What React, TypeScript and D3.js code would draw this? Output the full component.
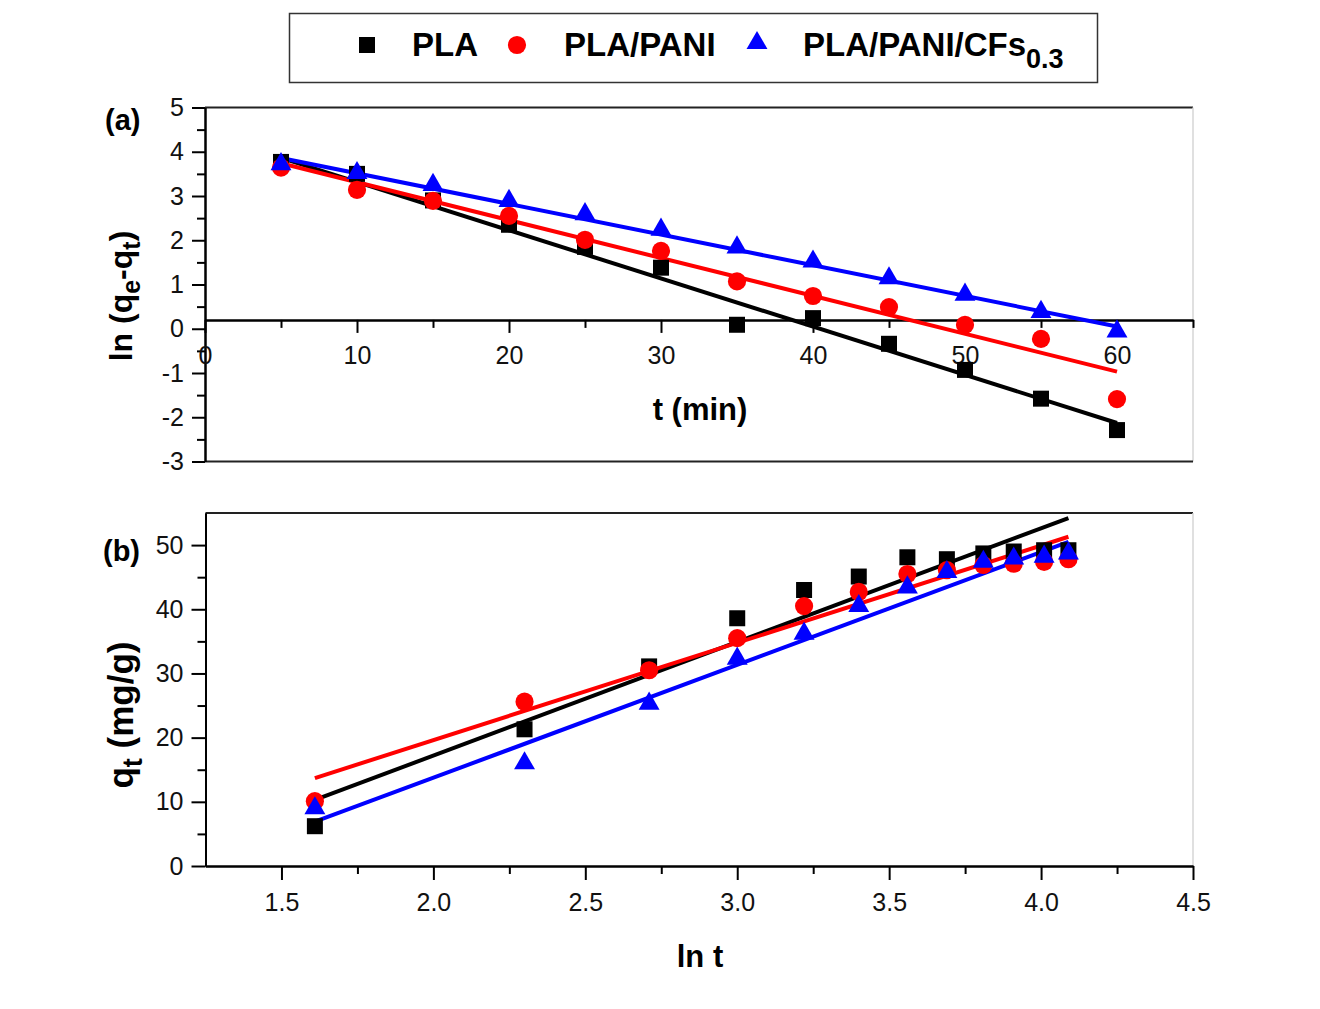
import * as d3 from 'd3';
import React, { useRef, useEffect } from 'react';

// panel (a): ln(qe - qt) against t (min)
const timeMin = [5, 10, 15, 20, 25, 30, 35, 40, 45, 50, 55, 60];
const lnPLA = [3.77, 3.5, 2.9, 2.35, 1.85, 1.38, 0.09, 0.24, -0.34, -0.93, -1.58, -2.29];
const lnPANI = [3.64, 3.14, 2.89, 2.55, 2.01, 1.76, 1.07, 0.74, 0.49, 0.09, -0.23, -1.59];
const lnCFs = [3.72, 3.52, 3.25, 2.89, 2.59, 2.24, 1.84, 1.52, 1.14, 0.77, 0.38, -0.06];
// fitted lines, value at t = 5 and t = 60
const fitA = [[3.86, -2.13], [3.74, -0.97], [3.86, 0.05]];

// panel (b): qt against ln t
const lnT = [1.61, 2.30, 2.71, 3.00, 3.22, 3.40, 3.56, 3.69, 3.81, 3.91, 4.01, 4.09];
const qtPLA = [6.2, 21.3, 31.1, 38.6, 43.0, 45.1, 48.1, 47.8, 48.7, 49.0, 49.2, 49.2];
const qtPANI = [10.1, 25.6, 30.5, 35.5, 40.5, 42.7, 45.5, 46.1, 46.9, 47.1, 47.4, 47.8];
const qtCFs = [9.0, 16.0, 25.3, 32.3, 36.2, 40.5, 43.4, 45.8, 47.4, 47.9, 48.2, 48.7];
// fitted lines, value at ln t = 1.61 and ln t = 4.09
const fitB = [[10.3, 54.2], [13.7, 51.3], [6.9, 50.5]];

const seriesNames = ['PLA', 'PLA/PANI', 'PLA/PANI/CFs'];
const colors = ['#000000', '#ff0000', '#0000ff'];
const shapes = [d3.symbolSquare, d3.symbolCircle, d3.symbolTriangle];
const shapeSizes = [256, 260, 190];

const ticksA_y = [-3, -2, -1, 0, 1, 2, 3, 4, 5];
const minorA_y = [-2.5, -1.5, -0.5, 0.5, 1.5, 2.5, 3.5, 4.5];
const ticksA_x = [0, 10, 20, 30, 40, 50, 60];
const minorA_x = [5, 15, 25, 35, 45, 55, 65];
const ticksB_y = [0, 10, 20, 30, 40, 50];
const minorB_y = [5, 15, 25, 35, 45];
const ticksB_x = [1.5, 2.0, 2.5, 3.0, 3.5, 4.0, 4.5];
const minorB_x = [1.75, 2.25, 2.75, 3.25, 3.75, 4.25];

const App = () => {
    const svgRef = useRef(null);

    useEffect(() => {
        const svg = d3.select(svgRef.current);
        svg.selectAll('*').remove();

        const font = "'Liberation Sans', Arial, sans-serif";

        svg.append('rect').attr('width', 1320).attr('height', 1009).attr('fill', '#fff');

        // legend box
        svg.append('rect')
            .attr('x', 289.5).attr('y', 13.5).attr('width', 808).attr('height', 69)
            .attr('fill', 'none').attr('stroke', '#333').attr('stroke-width', 1.5);
        const legendX = [367, 517, 757];
        const legendTextX = [412, 564, 803];
        seriesNames.forEach((name, i) => {
            svg.append('path')
                .attr('transform', `translate(${legendX[i]},${i === 2 ? 43 : 45})`)
                .attr('d', d3.symbol(shapes[i], shapeSizes[i])())
                .attr('fill', colors[i]);
            const t = svg.append('text')
                .attr('x', legendTextX[i]).attr('y', 56)
                .attr('font-family', font).attr('font-weight', 'bold')
                .attr('font-size', 33).attr('fill', '#000')
                .text(name);
            if (i === 2) {
                t.append('tspan').attr('dy', 12).attr('font-size', 27).text('0.3');
            }
        });

        const xa = d3.scaleLinear().domain([0, 65]).range([205, 1193]);
        const ya = d3.scaleLinear().domain([-3, 5]).range([461.5, 107.5]);
        const xb = d3.scaleLinear().domain([1.25, 4.5]).range([205.5, 1193]);
        const yb = d3.scaleLinear().domain([0, 55]).range([866, 513]);

        const styleAxis = (g) => {
            g.selectAll('path').attr('stroke', '#000').attr('stroke-width', 2);
            g.selectAll('line').attr('stroke', '#000').attr('stroke-width', 2);
            g.selectAll('text').attr('font-family', font).attr('font-size', 25).attr('fill', '#111');
        };
        const plain = (d) => String(d);

        // frames (top and right borders)
        const frame = (x0, x1, y0, y1, bottom) => {
            svg.append('line').attr('x1', x0).attr('x2', x1).attr('y1', y0).attr('y2', y0)
                .attr('stroke', '#222').attr('stroke-width', 2);
            svg.append('line').attr('x1', x1).attr('x2', x1).attr('y1', y0).attr('y2', y1)
                .attr('stroke', '#d6d6d6').attr('stroke-width', 1.5);
            if (bottom) {
                svg.append('line').attr('x1', x0).attr('x2', x1).attr('y1', y1).attr('y2', y1)
                    .attr('stroke', '#222').attr('stroke-width', 2);
            }
        };
        frame(205, 1193, 107.5, 461.5, true);
        frame(205.5, 1193, 513, 866, false);

        // panel (a) axes
        svg.append('g').attr('transform', 'translate(205,0)')
            .call(d3.axisLeft(ya).tickValues(minorA_y).tickSize(8).tickFormat(() => '').tickSizeOuter(0))
            .call(styleAxis);
        svg.append('g').attr('transform', 'translate(205,0)')
            .call(d3.axisLeft(ya).tickValues(ticksA_y).tickSize(13).tickPadding(8)
                .tickFormat(plain).tickSizeOuter(0))
            .call(styleAxis);
        svg.append('g').attr('transform', `translate(0,${ya(0.2)})`)
            .call(d3.axisBottom(xa).tickValues(minorA_x).tickSize(8).tickFormat(() => '').tickSizeOuter(0))
            .call(styleAxis);
        svg.append('g').attr('transform', `translate(0,${ya(0.2)})`)
            .call(d3.axisBottom(xa).tickValues(ticksA_x).tickSize(13).tickPadding(13)
                .tickFormat(plain).tickSizeOuter(0))
            .call(styleAxis);

        // panel (b) axes
        svg.append('g').attr('transform', 'translate(205.5,0)')
            .call(d3.axisLeft(yb).tickValues(minorB_y).tickSize(8).tickFormat(() => '').tickSizeOuter(0))
            .call(styleAxis);
        svg.append('g').attr('transform', 'translate(205.5,0)')
            .call(d3.axisLeft(yb).tickValues(ticksB_y).tickSize(14).tickPadding(8)
                .tickFormat(plain).tickSizeOuter(0))
            .call(styleAxis);
        svg.append('g').attr('transform', 'translate(0,866)')
            .call(d3.axisBottom(xb).tickValues(minorB_x).tickSize(8).tickFormat(() => '').tickSizeOuter(0))
            .call(styleAxis);
        svg.append('g').attr('transform', 'translate(0,866)')
            .call(d3.axisBottom(xb).tickValues(ticksB_x).tickSize(14).tickPadding(13)
                .tickFormat(d3.format('.1f')).tickSizeOuter(0))
            .call(styleAxis);

        // axis titles
        const bold = (x, y, size) => svg.append('text')
            .attr('x', x).attr('y', y).attr('font-family', font)
            .attr('font-weight', 'bold').attr('font-size', size).attr('fill', '#000');
        bold(105, 130, 29).text('(a)');
        bold(103, 561, 29).text('(b)');
        bold(700, 420, 31).attr('text-anchor', 'middle').text('t (min)');
        bold(700, 967, 31).attr('text-anchor', 'middle').text('ln t');

        const ylabA = svg.append('text')
            .attr('transform', 'translate(132,296) rotate(-90)')
            .attr('text-anchor', 'middle').attr('font-family', font)
            .attr('font-weight', 'bold').attr('font-size', 32).attr('fill', '#000');
        ylabA.append('tspan').text('ln (q');
        ylabA.append('tspan').attr('dy', 8).attr('font-size', 25).text('e');
        ylabA.append('tspan').attr('dy', -8).text('-q');
        ylabA.append('tspan').attr('dy', 8).attr('font-size', 25).text('t');
        ylabA.append('tspan').attr('dy', -8).text(')');

        const ylabB = svg.append('text')
            .attr('transform', 'translate(133,715) rotate(-90)')
            .attr('text-anchor', 'middle').attr('font-family', font)
            .attr('font-weight', 'bold').attr('font-size', 35).attr('fill', '#000');
        ylabB.append('tspan').text('q');
        ylabB.append('tspan').attr('dy', 9).attr('font-size', 27).text('t');
        ylabB.append('tspan').attr('dy', -9).text(' (mg/g)');

        // data
        const panelA = [lnPLA, lnPANI, lnCFs];
        const panelB = [qtPLA, qtPANI, qtCFs];
        const line = d3.line();

        fitA.forEach((f, i) => {
            svg.append('path')
                .attr('d', line([[xa(timeMin[0]), ya(f[0])], [xa(timeMin[timeMin.length - 1]), ya(f[1])]]))
                .attr('stroke', colors[i]).attr('stroke-width', 4).attr('fill', 'none');
        });
        fitB.forEach((f, i) => {
            svg.append('path')
                .attr('d', line([[xb(lnT[0]), yb(f[0])], [xb(lnT[lnT.length - 1]), yb(f[1])]]))
                .attr('stroke', colors[i]).attr('stroke-width', 4).attr('fill', 'none');
        });

        panelA.forEach((vals, i) => {
            svg.append('g').selectAll('path')
                .data(vals).enter().append('path')
                .attr('transform', (d, j) => `translate(${xa(timeMin[j])},${ya(d)})`)
                .attr('d', d3.symbol(shapes[i], shapeSizes[i])())
                .attr('fill', colors[i]);
        });
        panelB.forEach((vals, i) => {
            svg.append('g').selectAll('path')
                .data(vals).enter().append('path')
                .attr('transform', (d, j) => `translate(${xb(lnT[j])},${yb(d)})`)
                .attr('d', d3.symbol(shapes[i], shapeSizes[i])())
                .attr('fill', colors[i]);
        });
    }, []);

    return (
        <svg ref={svgRef} width={1320} height={1009}
            style={{ position: 'absolute', left: 0, top: 0 }}></svg>
    );
};

export default App;
